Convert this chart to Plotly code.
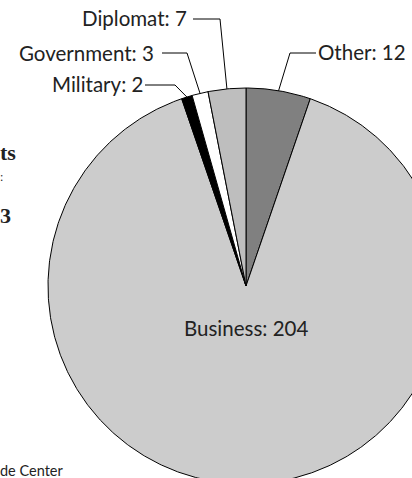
import numpy as np
import plotly.graph_objects as go

# ---- data ----
categories = ["Other", "Business", "Military", "Government", "Diplomat"]
values = [12, 204, 2, 3, 7]
colors = ["#808080", "#cccccc", "#000000", "#ffffff", "#bebebe"]

# ---- layout constants (pixel space) ----
W, H = 412, 478
CX, CY, R = 246, 286, 198
LABEL_FONT = "Lato, 'Open Sans', sans-serif"
FS = 20.5

# leader-line elbows and label text anchors for outer labels
outer = {
    "Other":      dict(elbow=(290, 53), hend=316, tx=316, ty=52, anchor="left"),
    "Diplomat":   dict(elbow=(220, 19), hend=193, tx=189, ty=18, anchor="right"),
    "Government": dict(elbow=(187, 53), hend=162, tx=156, ty=53, anchor="right"),
    "Military":   dict(elbow=(175, 85), hend=145, tx=145, ty=84, anchor="right"),
}
inner_label_pos = {"Business": (246, 328)}


def pt(deg, r=R):
    a = np.deg2rad(deg)
    return CX + r * np.sin(a), CY - r * np.cos(a)


fig = go.Figure()
total = float(sum(values))
start = 0.0
mids = {}
for cat, v, c in zip(categories, values, colors):
    span = v / total * 360.0
    end = start + span
    n = max(3, int(span * 2))
    angs = np.linspace(start, end, n)
    xs, ys = pt(angs)
    px = [CX] + list(xs) + [CX]
    py = [CY] + list(ys) + [CY]
    fig.add_trace(go.Scatter(x=px, y=py, mode="lines", fill="toself",
                             fillcolor=c, line=dict(color="black", width=1),
                             hoverinfo="skip", showlegend=False))
    mids[cat] = (start + end) / 2
    start = end

annotations = []
for cat, v in zip(categories, values):
    label = f"{cat}: {v}"
    if cat in outer:
        o = outer[cat]
        ex, ey = pt(mids[cat])
        fig.add_trace(go.Scatter(x=[ex, o["elbow"][0], o["hend"]],
                                 y=[ey, o["elbow"][1], o["elbow"][1]],
                                 mode="lines", line=dict(color="black", width=1),
                                 hoverinfo="skip", showlegend=False))
        annotations.append(dict(x=o["tx"], y=o["ty"], text=label, showarrow=False,
                                xanchor=o["anchor"], yanchor="middle",
                                font=dict(family=LABEL_FONT, size=FS, color="#222")))
    else:
        x, y = inner_label_pos[cat]
        annotations.append(dict(x=x, y=y, text=label, showarrow=False,
                                xanchor="center", yanchor="middle",
                                font=dict(family=LABEL_FONT, size=FS, color="#222")))

# cropped fragments of surrounding title/source text
serif = "'Liberation Serif', 'DejaVu Serif', serif"
annotations += [
    dict(x=0, y=152, text="<b>ts</b>", showarrow=False, xanchor="left", yanchor="middle",
         xshift=-2, font=dict(family=serif, size=22, color="#222")),
    dict(x=0, y=177, text=":", showarrow=False, xanchor="left", yanchor="middle",
         xshift=-2, font=dict(family=serif, size=12, color="#222")),
    dict(x=0, y=215, text="<b>3</b>", showarrow=False, xanchor="left", yanchor="middle",
         xshift=-2, font=dict(family=serif, size=22, color="#222")),
    dict(x=0, y=470, text="de Center", showarrow=False, xanchor="left", yanchor="middle",
         xshift=-2, font=dict(family=LABEL_FONT, size=14.5, color="#222")),
]

fig.update_layout(
    width=W, height=H, margin=dict(l=0, r=0, t=0, b=0),
    paper_bgcolor="white", plot_bgcolor="white",
    xaxis=dict(range=[0, W], visible=False, fixedrange=True),
    yaxis=dict(range=[H, 0], visible=False, fixedrange=True),
    annotations=annotations, showlegend=False,
)
fig.write_html("out.html")
